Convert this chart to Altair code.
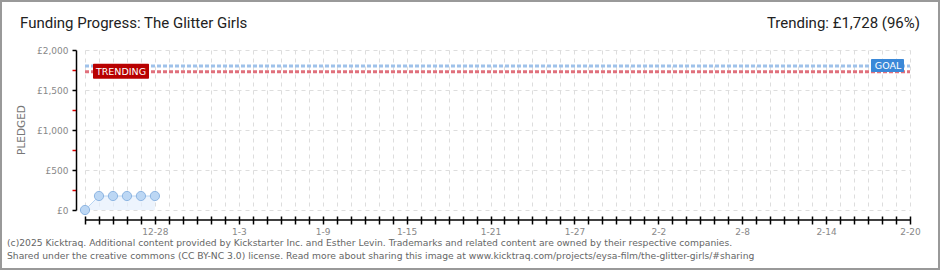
import altair as alt
import pandas as pd

# ---- data ----
day_index = [0, 1, 2, 3, 4, 5]          # days since 12-23
pledged = [0, 175, 175, 175, 175, 175]
n_days = 59                              # 12-23 .. 2-20
label_pos = [5, 11, 17, 23, 29, 35, 41, 47, 53, 59]
label_days = ["12-28", "1-3", "1-9", "1-15", "1-21", "1-27", "2-2", "2-8", "2-14", "2-20"]
y_ticks = [0, 250, 500, 750, 1000, 1250, 1500, 1750, 2000]
goal = 1800
trending = 1728
title_text = "Funding Progress: The Glitter Girls"
trend_text = "Trending:  £1,728 (96%)"
footer1 = "(c)2025 Kicktraq. Additional content provided by Kickstarter Inc. and Esther Levin. Trademarks and related content are owned by their respective companies."
footer2 = "Shared under the creative commons (CC BY-NC 3.0) license. Read more about sharing this image at www.kicktraq.com/projects/eysa-film/the-glitter-girls/#sharing"

all_days = list(range(0, n_days + 1))
df = pd.DataFrame({"t": day_index, "v": pledged})
goal_df = pd.DataFrame({"t": [0, n_days], "v": [goal, goal]})
trend_df = pd.DataFrame({"t": [0, n_days], "v": [trending, trending]})

W, H = 825, 160
FONT = "DejaVu Sans"
TFONT = "Roboto"
GREY = "#888888"

x_label_expr = ""
for p, s in zip(label_pos, label_days):
    x_label_expr += "datum.value == %d ? '%s' : " % (p, s)
x_label_expr += "''"

xscale = alt.Scale(domain=[0, n_days], nice=False, zero=False)
yscale = alt.Scale(domain=[0, 2000], nice=False)

x_axis = alt.Axis(
    values=all_days, labelExpr=x_label_expr, title=None, domain=False,
    offset=6, tickSize=8, tickColor="black", tickWidth=1.5,
    grid=True, gridColor="#dddddd", gridDash=[4, 4], gridWidth=1,
    labelColor=GREY, labelFont=FONT, labelFontSize=9, labelPadding=3,
    labelFlush=False, labelOverlap=False)
y_axis = alt.Axis(
    values=y_ticks, title=None, offset=9, domainColor="black", domainWidth=1.5,
    labelExpr="datum.value % 500 == 0 ? '£' + format(datum.value, ',') : ''",
    tickColor=alt.condition("datum.value % 500 == 0", alt.value("black"), alt.value("#dd0000")),
    gridColor=alt.condition("datum.value % 500 == 0", alt.value("#dddddd"), alt.value("transparent")),
    gridDash=[4, 4], tickSize=4, tickWidth=1.5, labelOverlap=False,
    labelColor=GREY, labelFont=FONT, labelFontSize=9, labelPadding=4)

X = alt.X("t:Q", scale=xscale, axis=x_axis)
Y = alt.Y("v:Q", scale=yscale, axis=y_axis)

area = alt.Chart(df).mark_area(color="#e6f0fc", line={"color": "#b9d5f3", "strokeWidth": 1}).encode(x=X, y=Y)

goal_line = alt.Chart(goal_df).mark_line(color="#9fc2ea", strokeWidth=3, strokeDash=[4, 2]).encode(x=X, y=Y)
trend_line = alt.Chart(trend_df).mark_line(color="#e0707c", strokeWidth=3, strokeDash=[4, 2]).encode(x=X, y=Y)

xdomain = alt.Chart(pd.DataFrame({"t": [0], "b": [n_days]})).mark_rule(color="black", strokeWidth=1.5).encode(
    x=X, x2="b:Q", y=alt.value(H + 10))

gdf = pd.DataFrame({"t": [n_days], "v": [goal], "s": ["GOAL"]})
tdf = pd.DataFrame({"t": [0], "v": [trending], "s": ["TRENDING"]})
goal_box = alt.Chart(gdf).mark_rect(
    color="#3a88d8", cornerRadius=1, xOffset=-39, x2Offset=-6, yOffset=-7, y2Offset=6).encode(
    x=X, x2="t:Q", y=Y, y2="v:Q")
goal_txt = alt.Chart(gdf).mark_text(
    color="white", font=FONT, fontSize=9.5, align="center", baseline="middle", dx=-22, dy=0).encode(
    x=X, y=Y, text="s:N")
trend_box = alt.Chart(tdf).mark_rect(
    color="#b80000", cornerRadius=1, xOffset=8, x2Offset=64, yOffset=-8, y2Offset=7).encode(
    x=X, x2="t:Q", y=Y, y2="v:Q")
trend_txt = alt.Chart(tdf).mark_text(
    color="white", font=FONT, fontSize=9.5, align="center", baseline="middle", dx=36, dy=0).encode(
    x=X, y=Y, text="s:N")

points = alt.Chart(df).mark_point(filled=True, size=85, fill="#bcd7f4", stroke="#8db5e2",
                                  strokeWidth=1, opacity=1).encode(x=X, y=Y)

title = alt.Chart(pd.DataFrame({"s": [title_text]})).mark_text(
    align="left", baseline="middle", font=TFONT, fontSize=15, color="#222222").encode(
    x=alt.value(-65), y=alt.value(-27), text="s:N")
trend_title = alt.Chart(pd.DataFrame({"s": [trend_text]})).mark_text(
    align="right", baseline="middle", font=TFONT, fontSize=15, color="#222222").encode(
    x=alt.value(835), y=alt.value(-27), text="s:N")
pledged_lbl = alt.Chart(pd.DataFrame({"s": ["PLEDGED"]})).mark_text(
    align="center", baseline="middle", font=FONT, fontSize=10.5, angle=270, color="#777777").encode(
    x=alt.value(-63), y=alt.value(80), text="s:N")
f1 = alt.Chart(pd.DataFrame({"s": [footer1]})).mark_text(
    align="left", baseline="middle", font=FONT, fontSize=9.2, color="#666666").encode(
    x=alt.value(-78), y=alt.value(193), text="s:N")
f2 = alt.Chart(pd.DataFrame({"s": [footer2]})).mark_text(
    align="left", baseline="middle", font=FONT, fontSize=9.2, color="#666666").encode(
    x=alt.value(-78), y=alt.value(206), text="s:N")
border = alt.Chart(pd.DataFrame({"s": [1]})).mark_rect(fill=None, stroke="#999999", strokeWidth=2).encode(
    x=alt.value(-84), x2=alt.value(854), y=alt.value(-49), y2=alt.value(219))

chart = alt.layer(
    area, goal_line, trend_line, xdomain, goal_box, goal_txt, trend_box, trend_txt, points,
    title, trend_title, pledged_lbl, f1, f2, border
).properties(
    width=W, height=H,
    padding={"left": 85, "top": 50, "right": 30, "bottom": 60},
    autosize="none", background="white"
).configure_view(stroke=None)

chart.save("out.html", embed_options={"renderer": "svg", "actions": False})
